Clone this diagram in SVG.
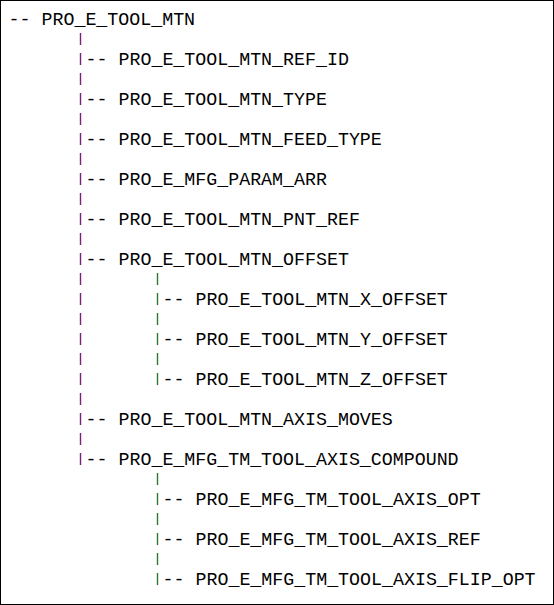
<svg xmlns="http://www.w3.org/2000/svg" width="554" height="605" viewBox="0 0 554 605">
<style>
text{font-family:"Liberation Mono","Courier New",monospace;font-size:18.3px;fill:#000}
.p1{stroke:#7a1f7a;stroke-width:1.4;stroke-dasharray:12 8;fill:none}
.p2{stroke:#2a7a2a;stroke-width:1.4;stroke-dasharray:12 8;fill:none}
</style>
<rect x="0.5" y="0.5" width="553" height="604" fill="#fff" stroke="#000" stroke-width="1"/>
<g id="connectors">
<line class="p1" x1="80.5" y1="33" x2="80.5" y2="465"/>
<line class="p2" x1="157.5" y1="273" x2="157.5" y2="385"/>
<line class="p2" x1="157.5" y1="473" x2="157.5" y2="585"/>
<text x="8.5" y="25">--</text>
<text x="85.5" y="65">--</text>
<text x="85.5" y="105">--</text>
<text x="85.5" y="145">--</text>
<text x="85.5" y="185">--</text>
<text x="85.5" y="225">--</text>
<text x="85.5" y="265">--</text>
<text x="162.5" y="305">--</text>
<text x="162.5" y="345">--</text>
<text x="162.5" y="385">--</text>
<text x="85.5" y="425">--</text>
<text x="85.5" y="465">--</text>
<text x="162.5" y="505">--</text>
<text x="162.5" y="545">--</text>
<text x="162.5" y="585">--</text>
</g>
<g id="n_root"><text x="41.5" y="25">PRO_E_TOOL_MTN</text></g>
<g id="n_ref_id"><text x="118.5" y="65">PRO_E_TOOL_MTN_REF_ID</text></g>
<g id="n_type"><text x="118.5" y="105">PRO_E_TOOL_MTN_TYPE</text></g>
<g id="n_feed_type"><text x="118.5" y="145">PRO_E_TOOL_MTN_FEED_TYPE</text></g>
<g id="n_param_arr"><text x="118.5" y="185">PRO_E_MFG_PARAM_ARR</text></g>
<g id="n_pnt_ref"><text x="118.5" y="225">PRO_E_TOOL_MTN_PNT_REF</text></g>
<g id="n_offset"><text x="118.5" y="265">PRO_E_TOOL_MTN_OFFSET</text></g>
<g id="n_x_offset"><text x="195.5" y="305">PRO_E_TOOL_MTN_X_OFFSET</text></g>
<g id="n_y_offset"><text x="195.5" y="345">PRO_E_TOOL_MTN_Y_OFFSET</text></g>
<g id="n_z_offset"><text x="195.5" y="385">PRO_E_TOOL_MTN_Z_OFFSET</text></g>
<g id="n_axis_moves"><text x="118.5" y="425">PRO_E_TOOL_MTN_AXIS_MOVES</text></g>
<g id="n_axis_compound"><text x="118.5" y="465">PRO_E_MFG_TM_TOOL_AXIS_COMPOUND</text></g>
<g id="n_axis_opt"><text x="195.5" y="505">PRO_E_MFG_TM_TOOL_AXIS_OPT</text></g>
<g id="n_axis_ref"><text x="195.5" y="545">PRO_E_MFG_TM_TOOL_AXIS_REF</text></g>
<g id="n_axis_flip_opt"><text x="195.5" y="585">PRO_E_MFG_TM_TOOL_AXIS_FLIP_OPT</text></g>
</svg>
